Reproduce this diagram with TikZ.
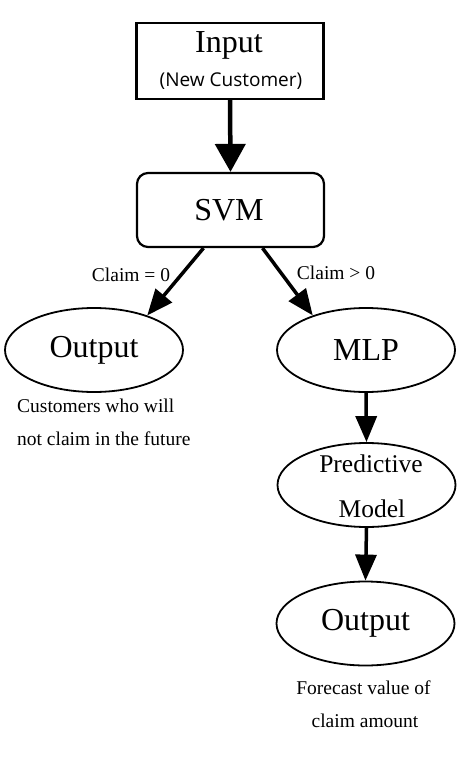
\documentclass[tikz,border=0pt]{standalone}
\usepackage{fontspec}
\setmainfont{Liberation Serif}
\newfontfamily\labsans{Open Sans}
\usetikzlibrary{shapes.geometric,arrows.meta}
\begin{document}
\begin{tikzpicture}[x=1pt,y=-1pt,
  boxnode/.style={draw, line width=2.2pt, minimum width=187pt, minimum height=76pt, inner sep=0pt},
  ellnode/.style={ellipse, draw, line width=1.8pt, minimum width=178pt, minimum height=84pt, inner sep=0pt},
  arr/.style={line width=3.5pt, -{Triangle[width=21pt,length=26pt]}},
  bigarr/.style={line width=4.5pt, -{Triangle[width=30pt,length=28pt]}},
  bigtxt/.style={font=\fontsize{32}{36}\selectfont},
  midtxt/.style={font=\fontsize{25.5}{30}\selectfont},
  smalltxt/.style={font=\fontsize{19.5}{23}\selectfont, inner sep=0pt},
]
\useasboundingbox[fill=white] (0,0) rectangle (468,783);

% Input box
\node[boxnode] (in) at (230,61) {};
\node[bigtxt, anchor=base, inner sep=0pt] (inT) at (229,53) {Input};
\node[font=\labsans\fontsize{19}{22}\selectfont, anchor=base, inner sep=0pt] (inS) at (231,87) {(New Customer)};

% SVM
\node[boxnode, rounded corners=11pt, minimum height=74pt] (svm) at (230.5,210) {};
\node[bigtxt, inner sep=0pt] (svmT) at (229,210) {SVM};

% left output
\node[ellnode, bigtxt] (out1) at (94,350) {Output};
% MLP
\node[ellnode, bigtxt] (mlp) at (366,350) {MLP};
% predictive model
\node[ellnode] (pred) at (366.5,485) {};
\node[midtxt, anchor=base, inner sep=0pt] (predA) at (371,472) {Predictive};
\node[midtxt, anchor=base, inner sep=0pt] (predB) at (372,517) {Model};
% bottom output
\node[ellnode, bigtxt] (out2) at (365.5,623.5) {Output};

% arrows
\draw[bigarr] (in.south) -- (svm.north);
\draw[arr] ([xshift=-27pt]svm.south) -- (out1.33);
\draw[arr] ([xshift=32pt]svm.south) -- (mlp.147);
\draw[arr] (mlp.south) -- (pred.north);
\draw[arr] (pred.south) -- (out2.north);

% labels
\node[smalltxt, anchor=base] (l0) at (131,281) {Claim = 0};
\node[smalltxt, anchor=base] (l1) at (336,279) {Claim > 0};

% captions
\node[smalltxt, anchor=base west] (c1a) at (17,412) {Customers who will};
\node[smalltxt, anchor=base west] (c1b) at (17,445) {not claim in the future};
\node[smalltxt, anchor=base] (c2a) at (363.5,694) {Forecast value of};
\node[smalltxt, anchor=base] (c2b) at (365,727) {claim amount};
\end{tikzpicture}
\end{document}
